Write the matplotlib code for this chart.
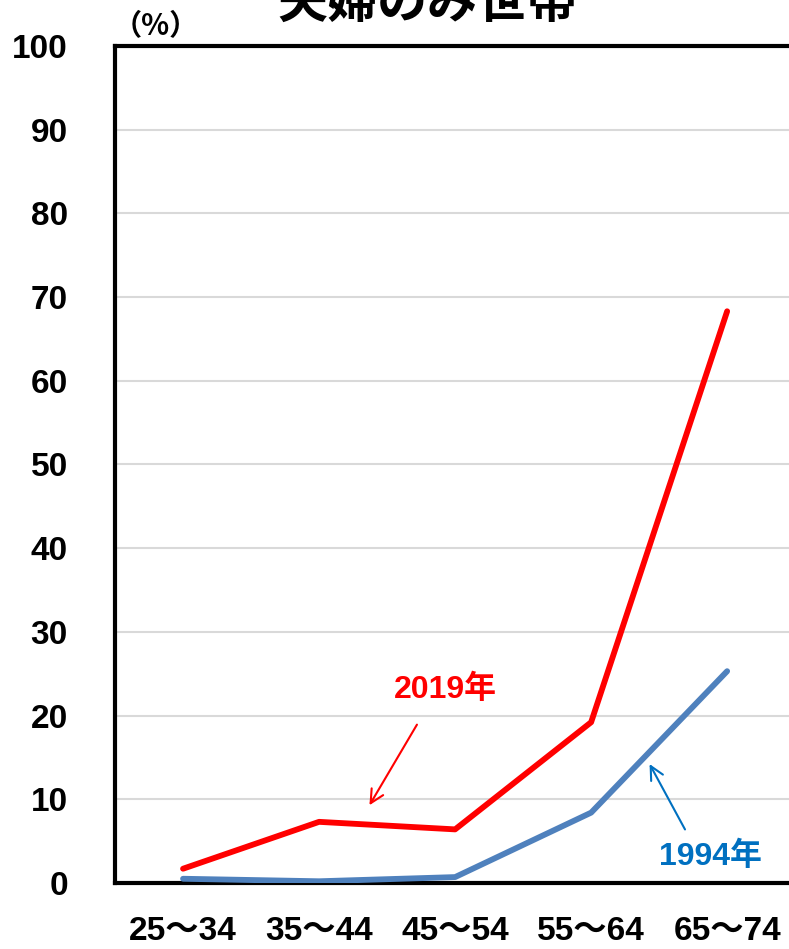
import matplotlib.pyplot as plt
from matplotlib import font_manager

# age groups and share of couple-only households (%)
ages = ["25～34", "35～44", "45～54", "55～64", "65～74"]
share_2019 = [1.7, 7.3, 6.4, 19.2, 68.3]
share_1994 = [0.5, 0.2, 0.7, 8.4, 25.3]

names = {f.name for f in font_manager.fontManager.ttflist}
narrow = "Liberation Sans Narrow" if "Liberation Sans Narrow" in names else "Liberation Sans"
fam = [narrow, "Noto Sans CJK JP", "DejaVu Sans"]
plt.rcParams["font.family"] = fam

fig = plt.figure(figsize=(7.89, 9.49), dpi=100)
ax = fig.add_axes([0.1458, 0.0696, 0.862, 0.882])

x = range(len(ages))
ax.plot(x, share_2019, color="#FF0000", lw=4.2, solid_capstyle="round", zorder=3)
ax.plot(x, share_1994, color="#4F81BD", lw=4.2, solid_capstyle="round", zorder=3)

ax.set_xlim(-0.5, 4.5)
ax.set_ylim(0, 100)
ax.set_yticks(range(0, 101, 10))
ax.set_xticks(list(x))
ax.set_xticklabels(ages)
ax.grid(axis="y", color="#D9D9D9", lw=1.5)
ax.set_axisbelow(True)
ax.tick_params(length=0, labelsize=24)
for lab in ax.get_xticklabels() + ax.get_yticklabels():
    lab.set_fontweight("bold")
ax.tick_params(axis="x", pad=24)
ax.tick_params(axis="y", pad=34)

for side in ["left", "bottom", "top"]:
    ax.spines[side].set_linewidth(3)
    ax.spines[side].set_color("black")
ax.spines["right"].set_visible(False)

# 2019 label and arrow
ax.annotate("", xy=(1.36, 9.0), xytext=(1.73, 19.2),
            arrowprops=dict(arrowstyle="->", color="#FF0000", lw=1.5,
                            mutation_scale=24))
ax.text(1.93, 23.1, "2019年", color="#FF0000", fontsize=23, fontweight="bold",
        ha="center", va="center")

# 1994 label and arrow
ax.annotate("", xy=(3.42, 14.5), xytext=(3.70, 6.1),
            arrowprops=dict(arrowstyle="->", color="#0070C0", lw=1.5,
                            mutation_scale=24), zorder=4)
ax.text(3.875, 3.1, "1994年", color="#0070C0", fontsize=23, fontweight="bold",
        ha="center", va="center")

fig.text(0.197, 0.972, "（%）", fontsize=21, fontweight="bold",
         ha="center", va="center", family=["Noto Sans CJK JP"])
fig.text(0.542, 0.981, "夫婦のみ世帯", fontsize=36, fontweight="bold",
         ha="center", va="baseline", family=["Noto Sans CJK JP"])

fig.savefig("out.png", dpi=100)
